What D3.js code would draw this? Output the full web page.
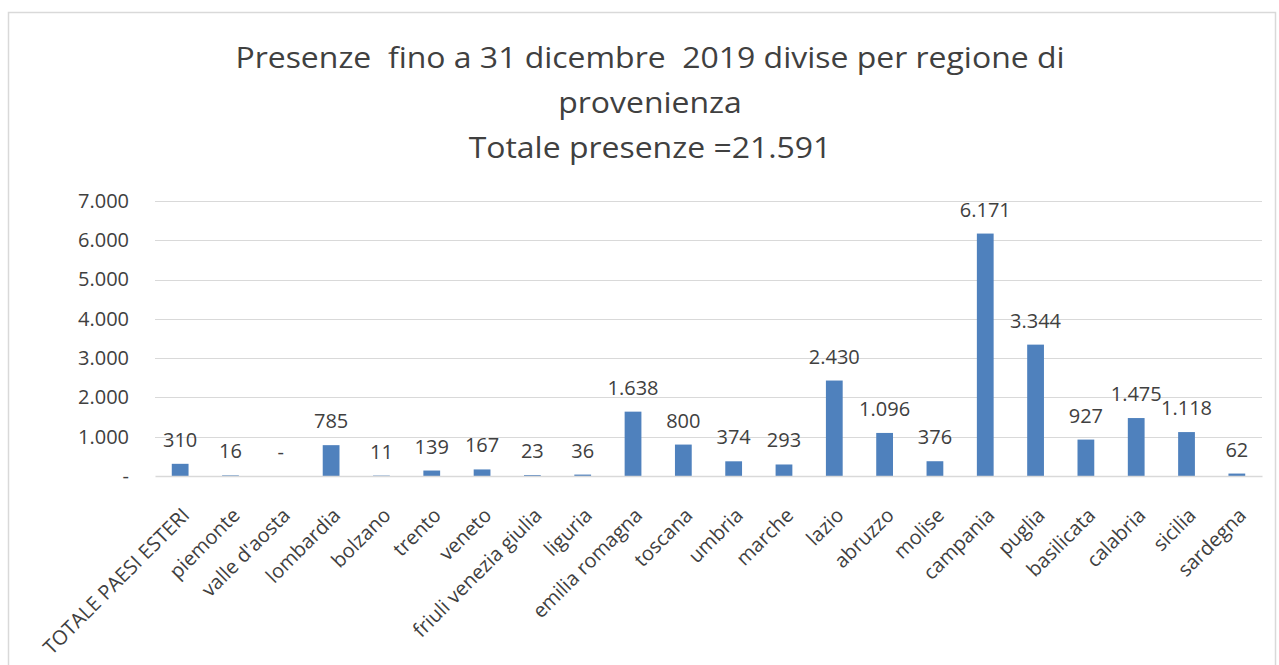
<!DOCTYPE html>
<html>
<head>
<meta charset="utf-8">
<script src="https://cdn.jsdelivr.net/npm/d3@7"></script>
<style>
  body { margin: 0; background: #fff; }
  text { font-family: "Open Sans", Lato, sans-serif; fill: #404040; }
</style>
</head>
<body>
<div id="chart"></div>
<script>
var regions = ["TOTALE PAESI ESTERI", "piemonte", "valle d'aosta", "lombardia", "bolzano",
  "trento", "veneto", "friuli venezia giulia", "liguria", "emilia romagna", "toscana",
  "umbria", "marche", "lazio", "abruzzo", "molise", "campania", "puglia", "basilicata",
  "calabria", "sicilia", "sardegna"];
var presenze = [310, 16, 0, 785, 11, 139, 167, 23, 36, 1638, 800, 374, 293, 2430, 1096,
  376, 6171, 3344, 927, 1475, 1118, 62];
var yTicks = [0, 1000, 2000, 3000, 4000, 5000, 6000, 7000];
var titleLines = ["Presenze  fino a 31 dicembre  2019 divise per regione di",
  "provenienza", "Totale presenze =21.591"];

var W = 1279, H = 665;
var it = d3.formatLocale({decimal: ",", thousands: ".", grouping: [3], currency: ["", ""]});
var fmt = function (v) { return v === 0 ? "-" : it.format(",d")(v); };

var svg = d3.select("#chart").append("svg").attr("width", W).attr("height", H);

// cornice del grafico
svg.append("rect")
  .attr("x", 8.5).attr("y", 12.5)
  .attr("width", 1267).attr("height", 700)
  .attr("fill", "none")
  .attr("stroke", "#d9d9d9")
  .attr("stroke-width", 1.5);

// titolo (leggermente allargato in orizzontale come nell'originale)
svg.append("g").selectAll("text")
  .data(titleLines)
  .enter()
  .append("text")
  .attr("transform", function (d, i) { return "translate(650," + (68 + i * 45) + ") scale(1.065,1)"; })
  .attr("text-anchor", "middle")
  .attr("font-size", 30)
  .style("white-space", "pre")
  .text(function (d) { return d; });

var pLeft = 155, pRight = 1262, pTop = 201, pBottom = 476;

var x = d3.scaleBand().domain(regions).range([pLeft, pRight]).paddingInner(2 / 3).paddingOuter(1 / 3);
var y = d3.scaleLinear().domain([0, 7000]).range([pBottom, pTop]);

// griglia
svg.append("g").selectAll("line")
  .data(yTicks.slice(1))
  .enter()
  .append("line")
  .attr("x1", pLeft).attr("x2", pRight)
  .attr("y1", function (d) { return Math.round(y(d)) + 0.5; })
  .attr("y2", function (d) { return Math.round(y(d)) + 0.5; })
  .attr("stroke", "#d9d9d9")
  .attr("stroke-width", 1);

// asse y
var yAxis = d3.axisLeft(y).tickValues(yTicks).tickSize(0).tickPadding(0).tickFormat(fmt);
var gy = svg.append("g")
  .attr("transform", "translate(129,0)")
  .call(yAxis);
gy.select(".domain").remove();
gy.selectAll("text")
  .attr("font-size", 20)
  .attr("fill", "#404040")
  .attr("font-family", "'Open Sans', Lato, sans-serif");

// barre
svg.append("g").selectAll("rect")
  .data(presenze)
  .enter()
  .append("rect")
  .attr("x", function (d, i) { return x(regions[i]); })
  .attr("y", function (d) { return y(d); })
  .attr("width", x.bandwidth())
  .attr("height", function (d) { return pBottom - y(d); })
  .attr("fill", "#4f81bd");

// asse x
var xAxis = d3.axisBottom(x).tickSize(0).tickPadding(0);
var gx = svg.append("g")
  .attr("transform", "translate(0," + pBottom + ")")
  .call(xAxis);
gx.select(".domain")
  .attr("stroke", "#d9d9d9")
  .attr("stroke-width", 1.5);
gx.selectAll("text")
  .attr("font-size", 20)
  .attr("fill", "#404040")
  .attr("font-family", "'Open Sans', Lato, sans-serif")
  .attr("text-anchor", "end")
  .attr("y", 0)
  .attr("dy", "0.75em")
  .attr("transform", "translate(0,30) rotate(-45)");

// etichette dei valori
svg.append("g").selectAll("text")
  .data(presenze)
  .enter()
  .append("text")
  .attr("x", function (d, i) { return x(regions[i]) + x.bandwidth() / 2; })
  .attr("y", function (d) { return y(d) - 17; })
  .attr("text-anchor", "middle")
  .attr("font-size", 20)
  .text(fmt);
</script>
</body>
</html>
